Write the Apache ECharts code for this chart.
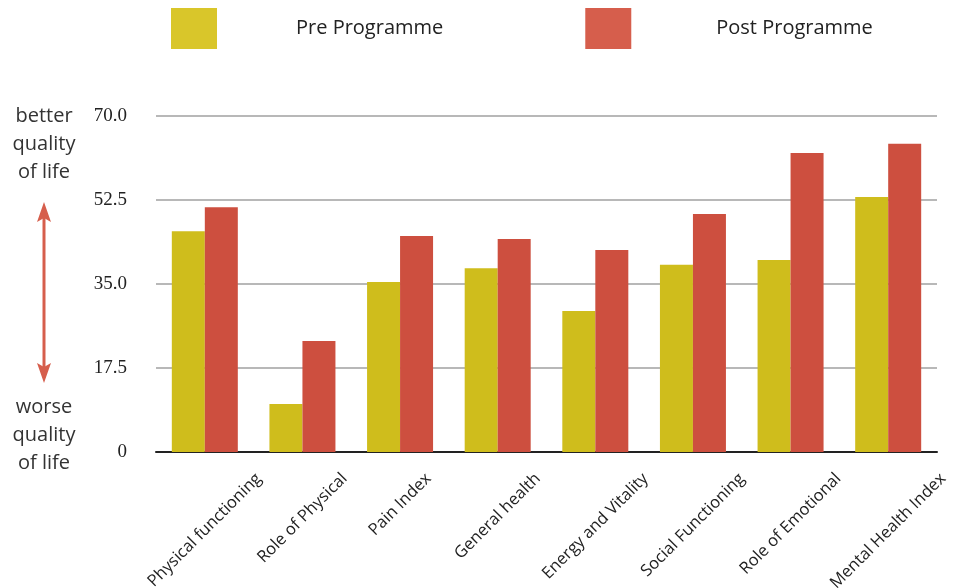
<!DOCTYPE html>
<html>
<head>
<meta charset="utf-8">
<script src="https://cdn.jsdelivr.net/npm/echarts@6/dist/echarts.min.js"></script>
<style>html,body{margin:0;padding:0;background:#fff;}#c{width:957px;height:588px;}</style>
</head>
<body>
<div id="c"></div>
<script>
const categories = ['Physical functioning','Role of Physical','Pain Index','General health','Energy and Vitality','Social Functioning','Role of Emotional','Mental Health Index'];
const preValues = [46.0, 10.0, 35.4, 38.3, 29.4, 39.0, 40.0, 53.1];
const postValues = [51.0, 23.1, 45.0, 44.4, 42.1, 49.6, 62.3, 64.2];
const yTicks = [0, 17.5, 35, 52.5, 70];
const seriesNames = ['Pre Programme', 'Post Programme'];

const X_FONT = 16.5;
const X_LH = 22;
const X_FAMILY = '"Open Sans", sans-serif';
const ctx = document.createElement('canvas').getContext('2d');
ctx.font = X_FONT + 'px ' + X_FAMILY;
const xData = categories.map(function (c) {
  const w = ctx.measureText(c).width;
  return { value: c, textStyle: { align: 'center', verticalAlign: 'top', lineHeight: X_LH,
    padding: [Math.max(0, w / 4 - X_LH / 2), w / 2, 0, 0] } };
});

const chart = echarts.init(document.getElementById('c'));
const redArrow = '#d65e4c';
chart.setOption({
  animation: false,
  backgroundColor: '#fff',
  legend: {
    left: 171, top: 8, padding: 0,
    itemWidth: 46, itemHeight: 41, itemGap: 142,
    icon: 'rect',
    textStyle: { fontFamily: '"Open Sans", sans-serif', fontSize: 20, color: '#222', padding: [0, 0, 6, 74] },
    data: [
      { name: seriesNames[0], itemStyle: { color: '#d9c62a' } },
      { name: seriesNames[1], itemStyle: { color: '#d65e4c' }, textStyle: { padding: [0, 0, 6, 80] } }
    ]
  },
  grid: { left: 156, right: 20, top: 116, bottom: 136, containLabel: false, outerBoundsMode: 'none' },
  xAxis: {
    type: 'category',
    data: xData,
    axisLine: { show: true, lineStyle: { color: '#222', width: 2 } },
    axisTick: { show: false },
    axisLabel: {
      interval: 0, rotate: 45, margin: 24,
      fontFamily: X_FAMILY, fontSize: X_FONT, color: '#222'
    }
  },
  yAxis: {
    type: 'value', min: yTicks[0], max: yTicks[yTicks.length - 1], interval: yTicks[1] - yTicks[0],
    axisLine: { show: false }, axisTick: { show: false },
    splitLine: { lineStyle: { color: '#b8b8b8', width: 2 } },
    axisLabel: {
      margin: 29, fontFamily: '"Liberation Serif", serif', fontSize: 19, color: '#222',
      formatter: function (v) { return v === 0 ? '0' : v.toFixed(1); }
    }
  },
  series: [
    { name: seriesNames[0], type: 'bar', data: preValues, barWidth: 33, barGap: '0%', itemStyle: { color: '#cfbd1c' } },
    { name: seriesNames[1], type: 'bar', data: postValues, barWidth: 33, barGap: '0%', itemStyle: { color: '#cd4f3f' } }
  ],
  graphic: [
    { type: 'text', style: { x: 44, y: 144, text: 'better\nquality\nof life', align: 'center', verticalAlign: 'middle', lineHeight: 28, font: '20px "Open Sans", sans-serif', fill: '#333' } },
    { type: 'text', style: { x: 44, y: 435, text: 'worse\nquality\nof life', align: 'center', verticalAlign: 'middle', lineHeight: 28, font: '20px "Open Sans", sans-serif', fill: '#333' } },
    { type: 'line', shape: { x1: 44, y1: 215, x2: 44, y2: 370 }, style: { stroke: redArrow, lineWidth: 3 } },
    { type: 'polygon', shape: { points: [[44, 202], [51, 222], [44, 218], [37, 222]] }, style: { fill: redArrow } },
    { type: 'polygon', shape: { points: [[44, 383], [51, 363], [44, 367], [37, 363]] }, style: { fill: redArrow } }
  ]
});
</script>
</body>
</html>
